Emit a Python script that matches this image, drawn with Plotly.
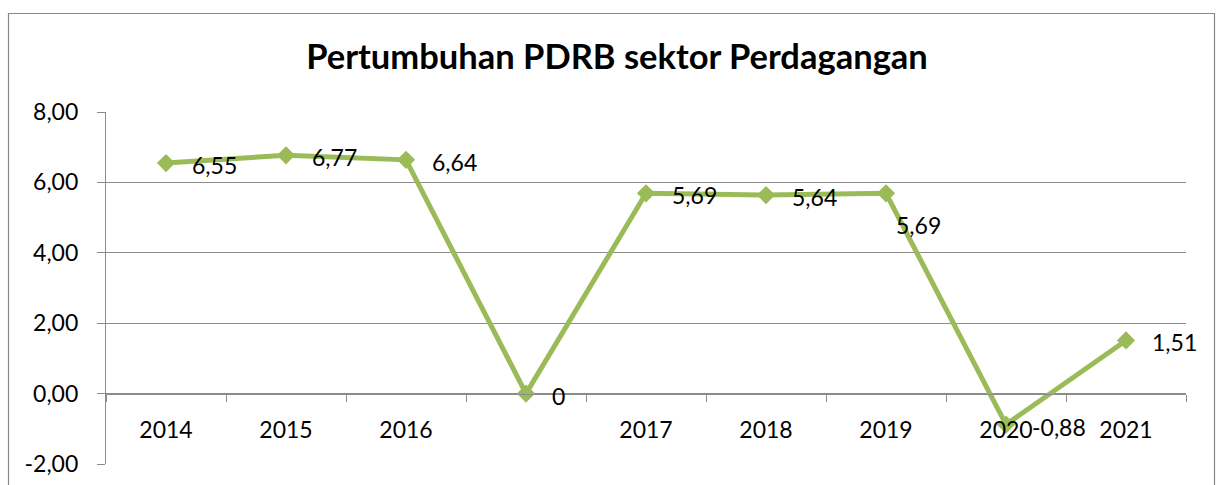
import plotly.graph_objects as go

# ---- data ----
categories = ["2014", "2015", "2016", " ", "2017", "2018", "2019", "2020", "2021"]
values = [6.55, 6.77, 6.64, 0, 5.69, 5.64, 5.69, -0.88, 1.51]
title_text = "Pertumbuhan PDRB sektor Perdagangan"
y_ticks = [-2, 0, 2, 4, 6, 8]
y_tick_labels = [format(v, ".2f").replace(".", ",") for v in y_ticks]

W, H = 1219, 485
ML, MR, MT, MB = 106, 33, 112, 21
FONT = "Lato"
FS = 23
GREEN = "#9BBB59"
GRID = "#8C8C8C"

fig = go.Figure()
fig.add_trace(go.Scatter(
    x=list(range(len(categories))), y=values, mode="lines+markers",
    line=dict(color=GREEN, width=5),
    marker=dict(symbol="diamond", size=14, color=GREEN),
    cliponaxis=False, hoverinfo="skip",
))

def fmt(v):
    return format(v, "g").replace(".", ",")

# label placement (style): default right of point; special cases
label_shift = {6: (8, -32)}
for i, v in enumerate(values):
    xs, ys = label_shift.get(i, (24, -2))
    fig.add_annotation(x=i, y=v, text=fmt(v), showarrow=False,
                       xanchor="left", yanchor="middle", xshift=xs, yshift=ys,
                       font=dict(family=FONT, size=FS, color="black"))

plot_w = W - ML - MR
plot_h = H - MT - MB

def px_x(p):
    return (p - ML) / plot_w

def px_y(p):
    return (H - MB - p) / plot_h

# outer chart border
fig.add_shape(type="rect", xref="paper", yref="paper",
              x0=px_x(8.5), x1=px_x(1214.5), y0=px_y(495), y1=px_y(13.5),
              line=dict(color="#878787", width=1.2), layer="below")

fig.update_layout(
    width=W, height=H,
    margin=dict(l=ML, r=MR, t=MT, b=MB, autoexpand=False),
    paper_bgcolor="white", plot_bgcolor="white",
    showlegend=False,
    title=dict(text="<b>" + title_text + "</b>", x=617 / W, xanchor="center",
               y=1 - 57 / H, yanchor="middle", yref="container",
               font=dict(family=FONT, size=34.5, color="black")),
    font=dict(family=FONT, size=FS, color="black"),
)
fig.update_yaxes(
    range=[-2, 8], tickvals=y_ticks, ticktext=y_tick_labels,
    showgrid=True, gridcolor=GRID, gridwidth=1.2, automargin=False,
    zeroline=False, showline=True, linecolor=GRID, linewidth=1.2,
    ticks="outside", ticklen=8, tickcolor=GRID, tickwidth=1.2,
    ticklabelstandoff=14,
    tickfont=dict(family=FONT, size=FS, color="black"),
)
fig.update_xaxes(
    type="linear", tickvals=list(range(len(categories))), ticktext=categories,
    range=[-0.5, len(categories) - 0.5], automargin=False,
    anchor="free", position=0.2,
    showgrid=False, zeroline=False, showline=True, linecolor=GRID, linewidth=1.2,
    ticks="", ticklabelstandoff=16,
    tickfont=dict(family=FONT, size=FS, color="black"),
)
# boundary tick marks on the zero line, drawn as a second (tick-only) axis
fig.update_layout(xaxis2=dict(
    overlaying="x", anchor="free", position=0.2, range=[-0.5, len(categories) - 0.5],
    tickvals=[k - 0.5 for k in range(len(categories) + 1)], ticktext=[""] * (len(categories) + 1),
    ticks="outside", ticklen=7, tickcolor=GRID, tickwidth=1.2, showgrid=False,
    zeroline=False, showline=False, automargin=False,
))
fig.add_trace(go.Scatter(x=[], y=[], xaxis="x2", showlegend=False, hoverinfo="skip"))

fig.write_html("out.html", config={"displayModeBar": False},
               post_script="document.body.style.margin='0';document.body.style.overflow='hidden';")
